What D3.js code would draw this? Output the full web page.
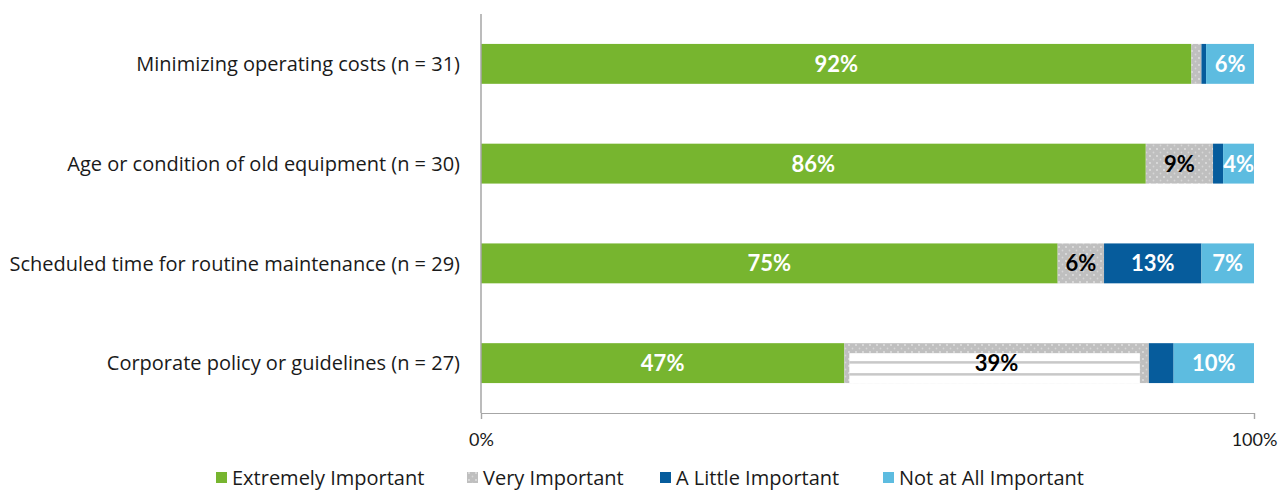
<!DOCTYPE html>
<html>
<head>
<meta charset="utf-8">
<script src="https://cdn.jsdelivr.net/npm/d3@7"></script>
<style>
  html, body { margin: 0; padding: 0; background: #fff; }
  svg { display: block; font-family: "Open Sans", Lato, sans-serif; }
</style>
</head>
<body>
<svg id="chart" width="1279" height="491"></svg>
<script>
// Survey factors and response shares (percent of respondents)
const categories = [
  "Minimizing operating costs (n = 31)",
  "Age or condition of old equipment (n = 30)",
  "Scheduled time for routine maintenance (n = 29)",
  "Corporate policy or guidelines (n = 27)"
];
const seriesNames = ["Extremely Important", "Very Important", "A Little Important", "Not at All Important"];
const extremelyImportant = [91.9, 86.0, 74.6, 47.0];
const veryImportant      = [1.3, 8.7, 6.0, 39.4];
const aLittleImportant   = [0.6, 1.3, 12.6, 3.2];
const notAtAllImportant  = [6.2, 4.0, 6.8, 10.4];
const tickValues = [0, 100];
const tickLabels = ["0%", "100%"];

const colors = ["#77b52f", "#bfbfbf", "#065c9c", "#5dbce0"];
const labelColors = ["#ffffff", "#000000", "#ffffff", "#ffffff"];

const rows = categories.map((c, i) => ({
  category: c,
  "Extremely Important": extremelyImportant[i],
  "Very Important": veryImportant[i],
  "A Little Important": aLittleImportant[i],
  "Not at All Important": notAtAllImportant[i]
}));

const svg = d3.select("#chart");
const margin = { left: 481, right: 25, top: 14, bottom: 78 };
const W = 1279, H = 491;

const x = d3.scaleLinear().domain([0, 100]).range([margin.left, W - margin.right]);
const y = d3.scaleBand().domain(categories).range([margin.top, H - margin.bottom]).paddingInner(0.6).paddingOuter(0.3);

// Dotted fill used for the "Very Important" segments
const defs = svg.append("defs");
const pat = defs.append("pattern").attr("id", "dots")
  .attr("patternUnits", "userSpaceOnUse").attr("width", 7).attr("height", 7);
pat.append("rect").attr("width", 7).attr("height", 7).attr("fill", colors[1]);
pat.append("circle").attr("cx", 2).attr("cy", 2).attr("r", 0.9).attr("fill", "#e4e4e4");
pat.append("circle").attr("cx", 5.5).attr("cy", 5.5).attr("r", 0.9).attr("fill", "#d6d6d6");

const fillFor = k => k === 1 ? "url(#dots)" : colors[k];

const stacked = d3.stack().keys(seriesNames)(rows);

const layers = svg.append("g").selectAll("g").data(stacked).join("g");

layers.each(function(layer, k) {
  d3.select(this).selectAll("rect.seg").data(layer).join("rect")
    .attr("class", "seg")
    .attr("x", d => x(d[0]))
    .attr("y", d => y(d.data.category))
    .attr("width", d => x(d[1]) - x(d[0]))
    .attr("height", y.bandwidth())
    .attr("fill", fillFor(k));
});

// Striped inset inside the wide "Very Important" segment of the last row
(function() {
  const k = 1, i = 3;
  const d = stacked[k][i];
  const x0 = x(d[0]), x1 = x(d[1]);
  const y0 = y(categories[i]), bh = y.bandwidth();
  const g = svg.append("g");
  const ix0 = x0 + 5, ix1 = x1 - 9, iy0 = y0 + 10, iy1 = y0 + bh;
  g.append("rect").attr("x", ix0).attr("y", iy0).attr("width", ix1 - ix0).attr("height", iy1 - iy0).attr("fill", "#ffffff");
  [0.3, 0.6].forEach(f => {
    g.append("rect").attr("x", ix0).attr("y", y0 + bh * f - 1 + 7)
      .attr("width", ix1 - ix0).attr("height", 2.5).attr("fill", "#c8c8c8");
  });
})();

// Value labels on segments wide enough to hold them
const labelLayers = svg.append("g").selectAll("g").data(stacked).join("g");
labelLayers.each(function(layer, k) {
  d3.select(this).selectAll("text").data(layer.filter(d => d[1] - d[0] >= 3.5)).join("text")
    .attr("x", d => (x(d[0]) + x(d[1])) / 2)
    .attr("y", d => y(d.data.category) + y.bandwidth() / 2)
    .attr("dy", "0.36em")
    .attr("text-anchor", "middle")
    .attr("font-family", "Lato, sans-serif")
    .attr("font-size", 22)
    .attr("font-weight", "bold")
    .attr("fill", labelColors[k])
    .text(d => Math.round(d[1] - d[0]) + "%");
});

// Category axis (left)
const axisColor = "#a6a6a6";
svg.append("line")
  .attr("x1", x(0)).attr("x2", x(0))
  .attr("y1", margin.top).attr("y2", H - margin.bottom)
  .attr("stroke", axisColor).attr("stroke-width", 1.5);

svg.append("g").selectAll("text").data(categories).join("text")
  .attr("x", x(0) - 21)
  .attr("y", d => y(d) + y.bandwidth() / 2)
  .attr("dy", "0.36em")
  .attr("text-anchor", "end")
  .attr("font-size", 20)
  .attr("fill", "#1a1a1a")
  .text(d => d);

// Value axis (bottom)
const xAxis = d3.axisBottom(x).tickValues(tickValues).tickFormat((d, i) => tickLabels[i]).tickSizeOuter(0).tickSize(6).tickPadding(14);
const gx = svg.append("g").attr("transform", `translate(0,${H - margin.bottom})`).call(xAxis);
gx.select(".domain").attr("stroke", axisColor).attr("stroke-width", 1.2);
gx.selectAll(".tick line").attr("stroke", axisColor).attr("stroke-width", 1.2);
gx.selectAll(".tick text").attr("font-size", 18).attr("fill", "#1a1a1a").attr("font-family", "Lato, sans-serif");

// Legend
const legendX = [216, 467, 660, 883];
const lg = svg.append("g").selectAll("g").data(seriesNames).join("g")
  .attr("transform", (d, i) => `translate(${legendX[i]},478)`);
lg.append("rect").attr("x", 0).attr("y", -6).attr("width", 11).attr("height", 11)
  .attr("fill", (d, i) => fillFor(i));
lg.append("text").attr("x", 16).attr("y", 0).attr("dy", "0.36em")
  .attr("font-size", 20).attr("fill", "#1a1a1a").text(d => d);
</script>
</body>
</html>
